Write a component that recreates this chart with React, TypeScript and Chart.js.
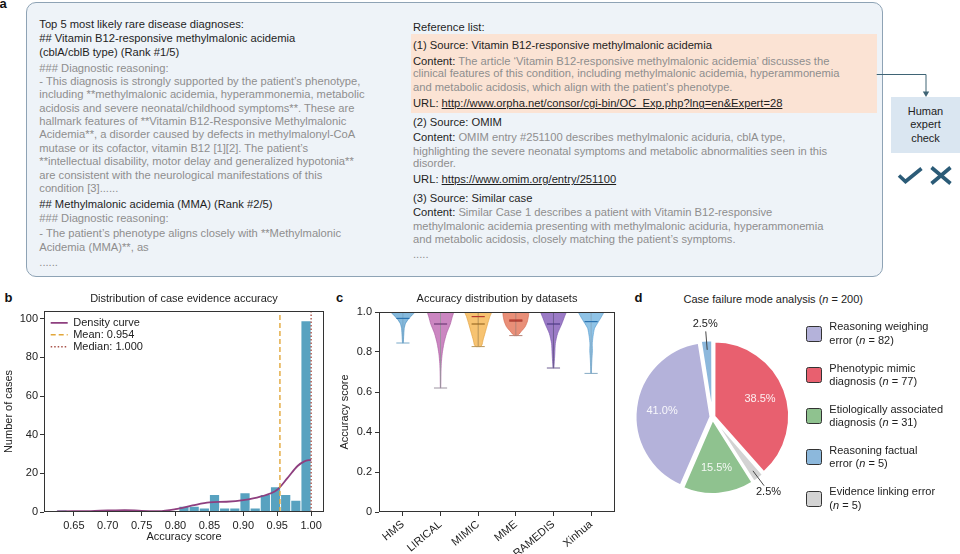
import React, { useEffect, useRef } from 'react';
import { Chart, registerables } from 'chart.js';

Chart.register(...registerables);

const FONT = "'Liberation Sans', Arial, Helvetica, sans-serif";
Chart.defaults.font.family = FONT;
Chart.defaults.font.size = 11;
Chart.defaults.color = '#222';

// ---------- Panel b: distribution of case evidence accuracy ----------
const histBinCenters = [0.6325, 0.6475, 0.6625, 0.6775, 0.6925, 0.7075, 0.7225, 0.7375, 0.7525, 0.7675, 0.7825, 0.7975, 0.8125, 0.8275, 0.8425, 0.8575, 0.8725, 0.8875, 0.9025, 0.9175, 0.9325, 0.9475, 0.9625, 0.9775, 0.9925];
const histCounts = [1, 0, 0, 0, 0, 0, 1, 0, 0, 0, 0, 0, 3, 3, 2, 9, 2, 2, 10, 2, 9, 13, 9, 6, 99];
const densityScores = [0.625, 0.65, 0.675, 0.7, 0.725, 0.75, 0.775, 0.8, 0.825, 0.85, 0.875, 0.9, 0.925, 0.95, 0.965, 0.98, 0.99, 1.0];
const densityCounts = [0.3, 0.4, 0.5, 0.8, 1.0, 0.6, 0.5, 1.5, 3.4, 5.0, 5.3, 6.1, 7.9, 11.5, 17.5, 23.8, 26.2, 27.0];
const meanScore = 0.954;
const medianScore = 1.0;
const histXTicks = [0.65, 0.7, 0.75, 0.8, 0.85, 0.9, 0.95, 1.0];
const histYTicks = [0, 20, 40, 60, 80, 100];
const histXMin = 0.606;
const histXMax = 1.019;
const histYMax = 104;

// ---------- Panel c: accuracy distribution by datasets ----------
const datasetNames = ['HMS', 'LIRICAL', 'MIMIC', 'MME', 'RAMEDIS', 'Xinhua'];
const violinMin = [0.845, 0.62, 0.827, 0.882, 0.72, 0.693];
const violinMax = [1.0, 1.0, 1.0, 1.0, 1.0, 1.0];
const violinMean = [0.968, 0.94, 0.94, 0.955, 0.94, 0.952];
// medians below the top of the axis (the others sit at 1.0)
const violinMedian: (number | null)[] = [null, null, 0.977, 0.96, null, null];
// [score, half width] density profiles of each violin
const hmsProfile = [[0.845, 0.01], [0.877, 0.02], [0.918, 0.035], [0.943, 0.07], [0.968, 0.16], [0.985, 0.25], [1.0, 0.31]];
const liricalProfile = [[0.62, 0.005], [0.69, 0.01], [0.743, 0.02], [0.793, 0.045], [0.843, 0.09], [0.893, 0.16], [0.94, 0.26], [0.975, 0.31], [1.0, 0.34]];
const mimicProfile = [[0.827, 0.06], [0.835, 0.1], [0.86, 0.13], [0.893, 0.18], [0.94, 0.25], [0.977, 0.31], [1.0, 0.35]];
const mmeProfile = [[0.882, 0.04], [0.89, 0.09], [0.9, 0.13], [0.915, 0.2], [0.927, 0.25], [0.955, 0.31], [1.0, 0.33]];
const ramedisProfile = [[0.72, 0.01], [0.743, 0.02], [0.79, 0.035], [0.843, 0.05], [0.893, 0.11], [0.94, 0.22], [0.975, 0.29], [1.0, 0.33]];
const xinhuaProfile = [[0.693, 0.005], [0.76, 0.02], [0.79, 0.03], [0.81, 0.035], [0.84, 0.03], [0.877, 0.05], [0.918, 0.09], [0.95, 0.19], [0.975, 0.27], [1.0, 0.33]];
const violinProfiles = [hmsProfile, liricalProfile, mimicProfile, mmeProfile, ramedisProfile, xinhuaProfile];
const accYTicks = [0, 0.2, 0.4, 0.6, 0.8, 1.0];

const violinFill = ['rgba(88,160,208,0.72)', 'rgba(190,104,178,0.8)', 'rgba(245,182,82,0.82)', 'rgba(228,118,90,0.82)', 'rgba(138,100,188,0.85)', 'rgba(100,172,220,0.72)'];
const violinEdge = ['rgba(70,140,190,0.9)', 'rgba(170,90,160,0.9)', 'rgba(225,160,60,0.9)', 'rgba(210,100,75,0.9)', 'rgba(120,85,170,0.9)', 'rgba(85,155,205,0.9)'];
const violinBarColor = ['#79a9c9', '#9c93a0', '#b8955a', '#b48478', '#6e5f92', '#86aac4'];
const violinMeanColor = ['#2b73b0', '#6f3a78', '#9a6b24', '#9c2f26', '#4e3a87', '#2b73b0'];
const medianColor = '#b5372c';
const capHalf = 0.175;

// ---------- Panel d: case failure mode analysis ----------
const failureLabels = ['Reasoning weighing error', 'Phenotypic mimic diagnosis', 'Etiologically associated diagnosis', 'Reasoning factual error', 'Evidence linking error'];
const failureLegendLines = [['Reasoning weighing', 'error'], ['Phenotypic mimic', 'diagnosis'], ['Etiologically associated', 'diagnosis'], ['Reasoning factual', 'error'], ['Evidence linking error', '']];
const failureCounts = [82, 77, 31, 5, 5];
const failureColors = ['#b4b2da', '#e8606f', '#8fc28f', '#8cb8dc', '#d3d3d3'];
const failureShift = [2, 2, 2.5, 1.5, 1.5];
const pieSliceOrder = [1, 4, 2, 0, 3];

// ---------- Panel a text ----------
const D = '#1e1e1e';
const G = '#8e8e8e';
type Part = [string, string, boolean?];
const leftLines: { y: number; parts: Part[] }[] = [
  { y: 24, parts: [['Top 5 most likely rare disease diagnoses:', D]] },
  { y: 37.7, parts: [['## Vitamin B12-responsive methylmalonic acidemia', D]] },
  { y: 51.7, parts: [['(cblA/cblB type) (Rank #1/5)', D]] },
  { y: 67.7, parts: [['### Diagnostic reasoning:', G]] },
  { y: 81, parts: [['- This diagnosis is strongly supported by the patient’s phenotype,', G]] },
  { y: 94.4, parts: [['including **methylmalonic acidemia, hyperammonemia, metabolic', G]] },
  { y: 107.7, parts: [['acidosis and severe neonatal/childhood symptoms**. These are', G]] },
  { y: 121.1, parts: [['hallmark features of **Vitamin B12-Responsive Methylmalonic', G]] },
  { y: 134.4, parts: [['Acidemia**, a disorder caused by defects in methylmalonyl-CoA', G]] },
  { y: 147.8, parts: [['mutase or its cofactor, vitamin B12 [1][2]. The patient’s', G]] },
  { y: 161.1, parts: [['**intellectual disability, motor delay and generalized hypotonia**', G]] },
  { y: 174.5, parts: [['are consistent with the neurological manifestations of this', G]] },
  { y: 187.8, parts: [['condition [3]......', G]] },
  { y: 204, parts: [['## Methylmalonic acidemia (MMA) (Rank #2/5)', D]] },
  { y: 218.3, parts: [['### Diagnostic reasoning:', G]] },
  { y: 232.7, parts: [['- The patient’s phenotype aligns closely with **Methylmalonic', G]] },
  { y: 246.7, parts: [['Acidemia (MMA)**, as', G]] },
  { y: 261.7, parts: [['......', G]] },
];
const rightLines: { y: number; parts: Part[] }[] = [
  { y: 26.7, parts: [['Reference list:', D]] },
  { y: 45, parts: [['(1) Source: Vitamin B12-responsive methylmalonic acidemia', D]] },
  { y: 60.7, parts: [['Content: ', D], ['The article ‘Vitamin B12-responsive methylmalonic acidemia’ discusses the', G]] },
  { y: 73.3, parts: [['clinical features of this condition, including methylmalonic acidemia, hyperammonemia', G]] },
  { y: 86.7, parts: [['and metabolic acidosis, which align with the patient’s phenotype.', G]] },
  { y: 103.3, parts: [['URL: ', D], ['http://www.orpha.net/consor/cgi-bin/OC_Exp.php?lng=en&Expert=28', D, true]] },
  { y: 121.7, parts: [['(2) Source: OMIM', D]] },
  { y: 136.7, parts: [['Content: ', D], ['OMIM entry #251100 describes methylmalonic aciduria, cblA type,', G]] },
  { y: 150.7, parts: [['highlighting the severe neonatal symptoms and metabolic abnormalities seen in this', G]] },
  { y: 163.3, parts: [['disorder.', G]] },
  { y: 179.3, parts: [['URL: ', D], ['https://www.omim.org/entry/251100', D, true]] },
  { y: 198.3, parts: [['(3) Source: Similar case', D]] },
  { y: 212.3, parts: [['Content: ', D], ['Similar Case 1 describes a patient with Vitamin B12-responsive', G]] },
  { y: 225.7, parts: [['methylmalonic acidemia presenting with methylmalonic aciduria, hyperammonemia', G]] },
  { y: 239, parts: [['and metabolic acidosis, closely matching the patient’s symptoms.', G]] },
  { y: 254, parts: [['.....', G]] },
];

// ---------- plugins ----------
const framePlugin = {
  id: 'frame',
  afterDatasetsDraw(chart: any) {
    const { ctx, chartArea: a } = chart;
    ctx.save();
    ctx.strokeStyle = '#333';
    ctx.lineWidth = 1;
    const l = Math.round(a.left) + 0.5;
    const t = Math.round(a.top) + 0.5;
    const r = Math.round(a.right) - 0.5;
    const b = Math.round(a.bottom) - 0.5;
    ctx.strokeRect(l, t, r - l, b - t);
    ctx.restore();
  },
};

// place the in-plot legend a little inside the top-left corner of the plot
const legendShiftPlugin = {
  id: 'legendShift',
  afterLayout(chart: any) {
    const lg = chart.legend;
    const a = chart.chartArea;
    if (lg && a) {
      lg.left = a.left + 5.7;
      lg.top = a.top + 5.3;
      lg.bottom = a.bottom;
      lg.right = a.left + 5.7 + lg.width;
    }
  },
};

const pieLabelPlugin = {
  id: 'pieLabels',
  afterDatasetsDraw(chart: any) {
    const { ctx } = chart;
    const vals = chart.data.datasets[0].data as number[];
    const total = vals.reduce((a: number, b: number) => a + b, 0);
    const meta = chart.getDatasetMeta(0);
    ctx.save();
    ctx.font = `11px ${FONT}`;
    ctx.textAlign = 'center';
    ctx.textBaseline = 'middle';
    meta.data.forEach((arc: any, i: number) => {
      const mid = (arc.startAngle + arc.endAngle) / 2;
      const shift = (arc.options.offset || 0) / 4;
      const R = arc.outerRadius;
      const cx = Math.cos(mid);
      const cy = Math.sin(mid);
      const pct = (vals[i] / total) * 100;
      const text = pct.toFixed(1) + '%';
      if (pct >= 5) {
        const r = shift + R * 0.66;
        ctx.fillStyle = 'rgba(255,255,255,0.9)';
        ctx.fillText(text, arc.x + cx * r, arc.y + cy * r);
      } else {
        const r1 = shift + R * 0.89;
        const r2 = shift + R * 1.14;
        const r3 = shift + R * 1.24;
        ctx.strokeStyle = '#333';
        ctx.lineWidth = 0.9;
        ctx.beginPath();
        ctx.moveTo(arc.x + cx * r1, arc.y + cy * r1);
        ctx.lineTo(arc.x + cx * r2, arc.y + cy * r2);
        ctx.stroke();
        ctx.fillStyle = '#222';
        ctx.fillText(text, arc.x + cx * r3, arc.y + cy * r3);
      }
    });
    ctx.restore();
  },
};

const tickGrid = { display: true, offset: false, drawOnChartArea: false, drawTicks: true, tickLength: 4, color: '#333', lineWidth: 1 };

export default function App() {
  const bRef = useRef<HTMLCanvasElement>(null);
  const cRef = useRef<HTMLCanvasElement>(null);
  const dRef = useRef<HTMLCanvasElement>(null);

  useEffect(() => {
    const charts: Chart[] = [];

    // ----- panel b -----
    charts.push(
      new Chart(bRef.current as HTMLCanvasElement, {
        type: 'bar',
        data: {
          datasets: [
            {
              type: 'line',
              label: 'Density curve',
              data: densityScores.map((x, i) => ({ x, y: densityCounts[i] })),
              borderColor: '#8e3f7f',
              borderWidth: 1.8,
              pointRadius: 0,
              cubicInterpolationMode: 'monotone',
              order: 1,
            },
            {
              type: 'line',
              label: `Mean: ${meanScore.toFixed(3)}`,
              data: [{ x: meanScore, y: 0 }, { x: meanScore, y: histYMax }],
              borderColor: '#e2a73a',
              borderWidth: 1.4,
              borderDash: [5, 3],
              pointRadius: 0,
              order: 0,
            },
            {
              type: 'line',
              label: `Median: ${medianScore.toFixed(3)}`,
              data: [{ x: medianScore, y: 0 }, { x: medianScore, y: histYMax }],
              borderColor: '#a9534a',
              borderWidth: 1.4,
              borderDash: [1.5, 2],
              pointRadius: 0,
              order: 0,
            },
            {
              type: 'bar',
              label: 'Number of cases',
              data: histBinCenters.map((x, i) => ({ x, y: histCounts[i] })),
              backgroundColor: '#58a2c0',
              borderColor: '#ffffff',
              borderWidth: 0.8,
              borderSkipped: 'start',
              barPercentage: 1,
              categoryPercentage: 1,
              order: 5,
            },
          ] as any,
        },
        options: {
          animation: false,
          responsive: true,
          maintainAspectRatio: false,
          events: [],
          layout: { padding: { left: 0, right: 16, top: 0, bottom: 0 } },
          plugins: {
            title: {
              display: true,
              text: 'Distribution of case evidence accuracy',
              fullSize: false,
              font: { size: 11, weight: 'normal' },
              color: '#222',
              padding: { top: 4.7, bottom: 5.1 },
            },
            legend: {
              position: 'chartArea',
              align: 'start',
              labels: {
                usePointStyle: true,
                pointStyleWidth: 17,
                boxHeight: 11,
                padding: 1,
                font: { size: 11 },
                color: '#222',
                generateLabels: (chart: any) =>
                  chart.data.datasets
                    .map((ds: any, i: number) => ({ ds, i }))
                    .filter(({ ds }: any) => ds.type === 'line')
                    .map(({ ds, i }: any) => ({
                      text: ds.label,
                      strokeStyle: ds.borderColor,
                      fillStyle: ds.borderColor,
                      lineWidth: ds.borderWidth,
                      lineDash: ds.borderDash || [],
                      pointStyle: 'line',
                      datasetIndex: i,
                      hidden: false,
                      fontColor: '#222',
                    })),
              },
            },
            tooltip: { enabled: false },
          },
          scales: {
            x: {
              type: 'linear',
              min: histXMin,
              max: histXMax,
              offset: false,
              grid: tickGrid,
              border: { display: false },
              afterBuildTicks: (s: any) => {
                s.ticks = histXTicks.map((v) => ({ value: v }));
              },
              afterFit: (s: any) => {
                s.height = 42;
              },
              ticks: {
                autoSkip: false,
                maxRotation: 0,
                padding: 3.4,
                color: '#222',
                font: { size: 11 },
                callback: (v: any) => Number(v).toFixed(2),
              },
              title: {
                display: true,
                text: 'Accuracy score',
                color: '#222',
                font: { size: 11 },
                padding: { top: 0, bottom: 10.7 },
              },
            },
            y: {
              type: 'linear',
              min: 0,
              max: histYMax,
              grid: tickGrid,
              border: { display: false },
              afterBuildTicks: (s: any) => {
                s.ticks = histYTicks.map((v) => ({ value: v }));
              },
              afterFit: (s: any) => {
                s.width = 44;
              },
              ticks: { padding: 2, color: '#222', font: { size: 11 } },
              title: {
                display: true,
                text: 'Number of cases',
                color: '#222',
                font: { size: 11 },
                padding: { top: 2, bottom: 0 },
              },
            },
          },
        } as any,
        plugins: [framePlugin, legendShiftPlugin],
      })
    );

    // ----- panel c -----
    const bodies = datasetNames.map((name, i) => {
      const prof = violinProfiles[i];
      const left = prof.map(([s, w]) => ({ x: i - w, y: s }));
      const right = prof
        .slice()
        .reverse()
        .map(([s, w]) => ({ x: i + w, y: s }));
      return {
        type: 'scatter',
        label: name,
        data: [{ x: i, y: violinMin[i] }, ...left, ...right, { x: i, y: violinMin[i] }],
        showLine: true,
        fill: 'shape',
        backgroundColor: violinFill[i],
        borderColor: violinEdge[i],
        borderWidth: 0.7,
        pointRadius: 0,
        tension: 0.2,
        order: 3,
      };
    });
    const whiskers = datasetNames.map((name, i) => ({
      type: 'scatter',
      label: name + ' range',
      data: [
        { x: i - capHalf, y: violinMin[i] },
        { x: i + capHalf, y: violinMin[i] },
        { x: i, y: null },
        { x: i, y: violinMin[i] },
        { x: i, y: violinMax[i] },
      ],
      showLine: true,
      spanGaps: false,
      borderColor: violinBarColor[i],
      borderWidth: 1,
      pointRadius: 0,
      order: 2,
    }));
    const means = datasetNames.map((name, i) => ({
      type: 'scatter',
      label: name + ' mean',
      data: [
        { x: i - capHalf, y: violinMean[i] },
        { x: i + capHalf, y: violinMean[i] },
      ],
      showLine: true,
      borderColor: violinMeanColor[i],
      borderWidth: 1.2,
      pointRadius: 0,
      order: 1,
    }));
    const medians = datasetNames
      .map((name, i) => ({ name, i }))
      .filter(({ i }) => violinMedian[i] !== null)
      .map(({ name, i }) => ({
        type: 'scatter',
        label: name + ' median',
        data: [
          { x: i - capHalf, y: violinMedian[i] },
          { x: i + capHalf, y: violinMedian[i] },
        ],
        showLine: true,
        borderColor: medianColor,
        borderWidth: 1.2,
        pointRadius: 0,
        order: 0,
      }));

    charts.push(
      new Chart(cRef.current as HTMLCanvasElement, {
        type: 'scatter',
        data: { datasets: [...bodies, ...whiskers, ...means, ...medians] as any },
        options: {
          animation: false,
          responsive: true,
          maintainAspectRatio: false,
          events: [],
          layout: { padding: { left: 0, right: 10, top: 0, bottom: 0 } },
          plugins: {
            legend: { display: false },
            tooltip: { enabled: false },
            title: {
              display: true,
              text: 'Accuracy distribution by datasets',
              fullSize: false,
              font: { size: 11, weight: 'normal' },
              color: '#222',
              padding: { top: 4.7, bottom: 6.1 },
            },
          },
          scales: {
            x: {
              type: 'linear',
              min: -0.635,
              max: 5.635,
              offset: false,
              grid: tickGrid,
              border: { display: false },
              afterBuildTicks: (s: any) => {
                s.ticks = datasetNames.map((_, i) => ({ value: i }));
              },
              afterFit: (s: any) => {
                s.height = 42;
              },
              ticks: {
                autoSkip: false,
                minRotation: 40,
                maxRotation: 40,
                padding: 2,
                color: '#222',
                font: { size: 11 },
                callback: (v: any) => datasetNames[Math.round(Number(v))] ?? '',
              },
            },
            y: {
              type: 'linear',
              min: 0,
              max: 1,
              grid: tickGrid,
              border: { display: false },
              afterBuildTicks: (s: any) => {
                s.ticks = accYTicks.map((v) => ({ value: v }));
              },
              afterFit: (s: any) => {
                s.width = 44;
              },
              ticks: {
                padding: 3,
                color: '#222',
                font: { size: 11 },
                callback: (v: any) => (Number(v) === 0 ? '0' : Number(v).toFixed(1)),
              },
              title: {
                display: true,
                text: 'Accuracy score',
                color: '#222',
                font: { size: 11 },
                padding: { top: 3.4, bottom: 0 },
              },
            },
          },
        } as any,
        plugins: [framePlugin],
      })
    );

    // ----- panel d -----
    charts.push(
      new Chart(dRef.current as HTMLCanvasElement, {
        type: 'pie',
        data: {
          labels: pieSliceOrder.map((i) => failureLabels[i]),
          datasets: [
            {
              data: pieSliceOrder.map((i) => failureCounts[i]),
              backgroundColor: pieSliceOrder.map((i) => failureColors[i]),
              borderColor: '#ffffff',
              borderWidth: 2,
              offset: pieSliceOrder.map((i) => failureShift[i] * 4),
            },
          ],
        },
        options: {
          animation: false,
          responsive: true,
          maintainAspectRatio: false,
          events: [],
          radius: 74,
          layout: { padding: 0 },
          plugins: { legend: { display: false }, tooltip: { enabled: false } },
        } as any,
        plugins: [pieLabelPlugin],
      })
    );

    return () => charts.forEach((c) => c.destroy());
  }, []);

  const lineStyle = (x: number, y: number): React.CSSProperties => ({
    position: 'absolute',
    left: x,
    top: y - 7,
    height: 14,
    lineHeight: '14px',
    fontSize: 11.2,
    whiteSpace: 'nowrap',
  });

  const renderLines = (lines: { y: number; parts: Part[] }[], x: number) =>
    lines.map((ln, k) => (
      <div key={k} style={lineStyle(x, ln.y)}>
        {ln.parts.map(([t, c, u], j) => (
          <span key={j} style={{ color: c, textDecoration: u ? 'underline' : 'none' }}>
            {t}
          </span>
        ))}
      </div>
    ));

  const panelLabel = (t: string, x: number, y: number) => (
    <div style={{ position: 'absolute', left: x, top: y, fontSize: 13, lineHeight: '13px', fontWeight: 'bold', color: '#111' }}>{t}</div>
  );

  const legendCenters = [333.5, 375, 416, 457, 498.5];

  return (
    <div
      style={{
        position: 'fixed',
        left: 0,
        top: 0,
        width: 960,
        height: 554,
        background: '#ffffff',
        overflow: 'hidden',
        fontFamily: FONT,
        color: '#222',
      }}
    >
      {/* Panel a */}
      <div
        style={{
          position: 'absolute',
          left: 26,
          top: 2,
          width: 857,
          height: 275,
          boxSizing: 'border-box',
          border: '1px solid #8ea3b5',
          borderRadius: 10,
          background: '#eef3f8',
        }}
      />
      <div style={{ position: 'absolute', left: 411, top: 34.3, width: 465.7, height: 79, background: '#fbe3d4' }} />
      {renderLines(leftLines, 39.3)}
      {renderLines(rightLines, 413)}
      <div
        style={{
          position: 'absolute',
          left: 891,
          top: 96.7,
          width: 69,
          height: 56.6,
          background: '#dae6f1',
          boxSizing: 'border-box',
          paddingTop: 8.3,
          textAlign: 'center',
          fontSize: 11,
          lineHeight: '13.3px',
          color: '#222',
        }}
      >
        Human
        <br />
        expert
        <br />
        check
      </div>
      <svg width={960} height={554} style={{ position: 'absolute', left: 0, top: 0, pointerEvents: 'none' }}>
        <path d="M 876.7 74.5 H 926 V 92" fill="none" stroke="#3f6475" strokeWidth={1} />
        <polygon points="922.8,91.5 929.2,91.5 926,97" fill="#3f6475" />
        <path d="M 899 175.5 L 905.5 181.5 L 921.5 168.5" fill="none" stroke="#2b5b77" strokeWidth={3.6} />
        <path d="M 931.5 167.5 L 950.5 183.5 M 950.5 167.5 L 931.5 183.5" fill="none" stroke="#2b5b77" strokeWidth={3.6} />
      </svg>

      {/* Panel labels */}
      {panelLabel('a', -0.5, -2.7)}
      {panelLabel('b', 4.5, 290.7)}
      {panelLabel('c', 336, 290.7)}
      {panelLabel('d', 634.5, 290.7)}

      {/* Panel b */}
      <div style={{ position: 'absolute', left: 0, top: 288, width: 340, height: 266 }}>
        <canvas ref={bRef} />
      </div>

      {/* Panel c */}
      <div style={{ position: 'absolute', left: 335, top: 288, width: 290, height: 266 }}>
        <canvas ref={cRef} />
      </div>

      {/* Panel d */}
      <div style={{ position: 'absolute', left: 673.3, top: 292.3, width: 200, textAlign: 'center', fontSize: 11, lineHeight: '14px', color: '#222' }}>
        Case failure mode analysis (<i>n</i> = 200)
      </div>
      <div style={{ position: 'absolute', left: 602, top: 306, width: 221, height: 222 }}>
        <canvas ref={dRef} />
      </div>
      {failureLabels.map((lab, i) => (
        <React.Fragment key={lab}>
          <div
            title={lab}
            style={{
              position: 'absolute',
              left: 806,
              top: legendCenters[i] - 8,
              width: 16,
              height: 16,
              boxSizing: 'border-box',
              border: '1.5px solid #333',
              borderRadius: 2.5,
              background: failureColors[i],
            }}
          />
          <div style={{ position: 'absolute', left: 829.3, top: legendCenters[i] - 13.5, fontSize: 11, lineHeight: '13.5px', color: '#222', whiteSpace: 'nowrap' }}>
            {failureLegendLines[i][0]}
            <br />
            {failureLegendLines[i][1] ? failureLegendLines[i][1] + ' ' : ''}(<i>n</i> = {failureCounts[i]})
          </div>
        </React.Fragment>
      ))}
    </div>
  );
}
